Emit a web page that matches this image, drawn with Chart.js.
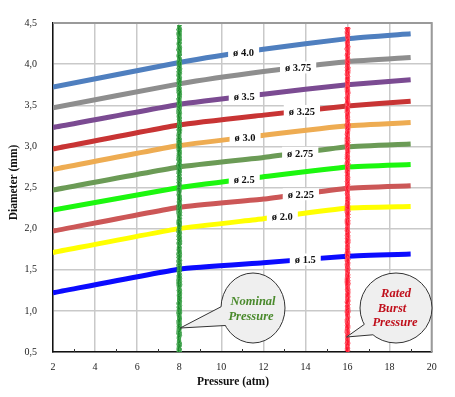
<!DOCTYPE html>
<html><head><meta charset="utf-8">
<script src="https://cdn.jsdelivr.net/npm/chart.js@4.4.1/dist/chart.umd.min.js"></script>
<style>html,body{margin:0;padding:0;background:#fff}#wrap{width:455px;height:397px;position:relative}</style>
</head><body><div id="wrap"><canvas id="c" width="455" height="397"></canvas></div>
<script>
// ---- data ----
const pressures = [2, 8, 12, 16, 19];
const dia40  = [3.72, 4.02, 4.18, 4.31, 4.37];
const dia375 = [3.47, 3.76, 3.91, 4.03, 4.08];
const dia35  = [3.23, 3.51, 3.635, 3.75, 3.81];
const dia325 = [2.97, 3.26, 3.38, 3.49, 3.55];
const dia30  = [2.72, 3.01, 3.135, 3.25, 3.29];
const dia275 = [2.47, 2.75, 2.865, 2.995, 3.03];
const dia25  = [2.225, 2.50, 2.63, 2.75, 2.78];
const dia225 = [1.97, 2.26, 2.36, 2.49, 2.52];
const dia20  = [1.71, 2.00, 2.12, 2.25, 2.27];
const dia15  = [1.22, 1.507, 1.585, 1.665, 1.69];
const seriesNames = ['ø 4.0','ø 3.75','ø 3.5','ø 3.25','ø 3.0','ø 2.75','ø 2.5','ø 2.25','ø 2.0','ø 1.5'];
const seriesValues = [dia40, dia375, dia35, dia325, dia30, dia275, dia25, dia225, dia20, dia15];
const labelPressures = [11.06, 13.65, 11.09, 13.83, 11.13, 13.75, 11.09, 13.78, 12.9, 13.99];
const xTickValues = [2,4,6,8,10,12,14,16,18,20];
const yTickValues = [0.5,1.0,1.5,2.0,2.5,3.0,3.5,4.0,4.5];
const nominalPressure = 8;
const ratedBurstPressure = 16;
const xTitle = 'Pressure (atm)';
const yTitle = 'Diameter (mm)';
const nominalText = ['Nominal','Pressure'];
const burstText = ['Rated','Burst','Pressure'];

// ---- styles ----
const colors = ['#4f7fbf','#8e8e8e','#7b4b92','#c83434','#eeac52','#6b9b56','#1cf70f','#cc5757','#ffff00','#0b0bff'];
const SERIF = '"Liberation Serif","DejaVu Serif",serif';

function interp(xs, ys, x){
  for(let i=0;i<xs.length-1;i++){
    if(x>=xs[i] && x<=xs[i+1]){const t=(x-xs[i])/(xs[i+1]-xs[i]);return ys[i]+t*(ys[i+1]-ys[i]);}
  }
  return ys[ys.length-1];
}
function noise(i){const s=Math.sin(i*12.9898+78.233)*43758.5453;return s-Math.floor(s);}

function roughLine(ctx, x, top, bottom, color, light, seed){
  ctx.save();
  ctx.strokeStyle=color;
  ctx.lineCap='butt';
  ctx.lineWidth=3.4;
  ctx.beginPath();ctx.moveTo(x,top);ctx.lineTo(x,bottom);ctx.stroke();
  ctx.lineWidth=0.9;
  for(let k=0;k<4;k++){
    ctx.strokeStyle=(k%2)?light:color;
    ctx.beginPath();
    for(let y=top,i=0;y<=bottom;y+=1.5,i++){
      const off=(k<2?-1:1)*(1.2+noise(i*7+k*131+seed)*1.3);
      if(i===0)ctx.moveTo(x+off,y);else ctx.lineTo(x+off,y);
    }
    ctx.stroke();
  }
  // speckles
  ctx.fillStyle=light;
  for(let i=0;i<(bottom-top)/1.2;i++){
    const y=top+i*1.2, dx=(noise(i*3+seed)-0.5)*3.2;
    ctx.fillRect(x+dx,y,1,1);
  }
  ctx.restore();
}

function bubble(ctx, cx, cy, rx, ry, a1, a2, tip, lines, color, lineY){
  ctx.save();
  const p1=[cx+rx*Math.cos(a1*Math.PI/180), cy+ry*Math.sin(a1*Math.PI/180)];
  const p2=[cx+rx*Math.cos(a2*Math.PI/180), cy+ry*Math.sin(a2*Math.PI/180)];
  ctx.fillStyle='#efefef';ctx.strokeStyle='#333';ctx.lineWidth=1;
  ctx.beginPath();ctx.ellipse(cx,cy,rx,ry,0,0,Math.PI*2);ctx.fill();ctx.stroke();
  ctx.beginPath();ctx.moveTo(tip[0],tip[1]);ctx.lineTo(p1[0],p1[1]);
  ctx.lineTo(cx+(p1[0]-cx)*0.9,cy+(p1[1]-cy)*0.9);
  ctx.lineTo(cx+(p2[0]-cx)*0.9,cy+(p2[1]-cy)*0.9);
  ctx.lineTo(p2[0],p2[1]);ctx.closePath();ctx.fill();
  ctx.beginPath();ctx.moveTo(p1[0],p1[1]);ctx.lineTo(tip[0],tip[1]);ctx.lineTo(p2[0],p2[1]);ctx.stroke();
  ctx.fillStyle=color;ctx.font='italic bold 12.5px '+SERIF;ctx.textAlign='center';ctx.textBaseline='middle';
  lines.forEach((t,i)=>ctx.fillText(t,lineY[i][0],lineY[i][1]));
  ctx.restore();
}

const overlay = {
  id:'overlay',
  afterDatasetsDraw(chart){
    const ctx=chart.ctx, xs=chart.scales.x, ys=chart.scales.y, ca=chart.chartArea;
    // series labels
    ctx.save();
    ctx.font='bold 10.5px '+SERIF;ctx.textAlign='center';ctx.textBaseline='middle';
    seriesNames.forEach((name,i)=>{
      const px=xs.getPixelForValue(labelPressures[i]);
      const py=ys.getPixelForValue(interp(pressures,seriesValues[i],labelPressures[i]));
      const w=ctx.measureText(name).width+10;
      ctx.fillStyle='#fff';ctx.fillRect(px-w/2,py-6,w,12);
      ctx.fillStyle='#111';ctx.fillText(name,px,py+1);
    });
    ctx.restore();
    // top/right border
    ctx.save();ctx.strokeStyle='#9a9a9a';ctx.lineWidth=2;
    ctx.beginPath();ctx.moveTo(ca.left,ca.top);ctx.lineTo(ca.right,ca.top);ctx.lineTo(ca.right,ca.bottom);ctx.stroke();
    // minor ticks
    ctx.strokeStyle='#333';ctx.lineWidth=1;
    for(let v=3;v<20;v+=2){const px=Math.round(xs.getPixelForValue(v))+0.5;ctx.beginPath();ctx.moveTo(px,ca.bottom);ctx.lineTo(px,ca.bottom-3);ctx.stroke();}
    ctx.restore();
    // vertical pressure lines
    roughLine(ctx, xs.getPixelForValue(nominalPressure), ca.top+2, ca.bottom, '#1c8a2c', '#4fae5a', 3);
    roughLine(ctx, xs.getPixelForValue(ratedBurstPressure), ca.top+4, ca.bottom, '#ff1830', '#ff5a68', 17);
    // callouts
    const nx=xs.getPixelForValue(nominalPressure), bx=xs.getPixelForValue(ratedBurstPressure);
    bubble(ctx, 253, 308, 32, 35, 182, 150, [nx+1, 328], nominalText, '#4a8a2c', [[253,302],[251,317]]);
    bubble(ctx, 396, 308, 36, 35, 152, 130, [bx-1, 337], burstText, '#c0101c', [[396,294],[392,309],[395,322.5]]);
    // axis titles
    ctx.save();ctx.fillStyle='#111';ctx.font='bold 11.5px '+SERIF;ctx.textAlign='center';ctx.textBaseline='middle';
    ctx.fillText(xTitle, 233, 382.5);
    ctx.translate(14,182.5);ctx.rotate(-Math.PI/2);ctx.fillText(yTitle,0,0);
    ctx.restore();
  }
};

const datasets = seriesValues.map((vals,i)=>({
  label: seriesNames[i],
  data: pressures.map((p,j)=>({x:p,y:vals[j]})),
  borderColor: colors[i], backgroundColor: colors[i],
  borderWidth: 5, pointRadius: 0, tension: 0.15, fill:false, borderCapStyle:'butt'
}));

new Chart(document.getElementById('c'), {
  type:'line',
  data:{datasets},
  options:{
    responsive:false, animation:false, devicePixelRatio:1,
    layout:{padding:{left:0,right:23.3,top:23,bottom:0}},
    plugins:{legend:{display:false},tooltip:{enabled:false}},
    scales:{
      x:{type:'linear',min:2,max:20,
        afterBuildTicks:s=>{s.ticks=xTickValues.map(v=>({value:v}));},
        afterFit:s=>{s.height=45;},
        grid:{color:'#c9c9c9',lineWidth:1.5,drawTicks:false},
        border:{color:'#111',width:1.5},
        ticks:{padding:9,color:'#222',font:{family:SERIF,size:10},maxRotation:0}
      },
      y:{type:'linear',min:0.5,max:4.5,
        afterBuildTicks:s=>{s.ticks=yTickValues.map(v=>({value:v}));},
        afterFit:s=>{s.width=53;},
        grid:{color:'#c9c9c9',lineWidth:1.5,drawTicks:false},
        border:{color:'#111',width:1.5},
        ticks:{padding:16,color:'#222',font:{family:SERIF,size:10},callback:v=>v.toFixed(1).replace('.',',')}
      }
    }
  },
  plugins:[overlay]
});
</script></body></html>
